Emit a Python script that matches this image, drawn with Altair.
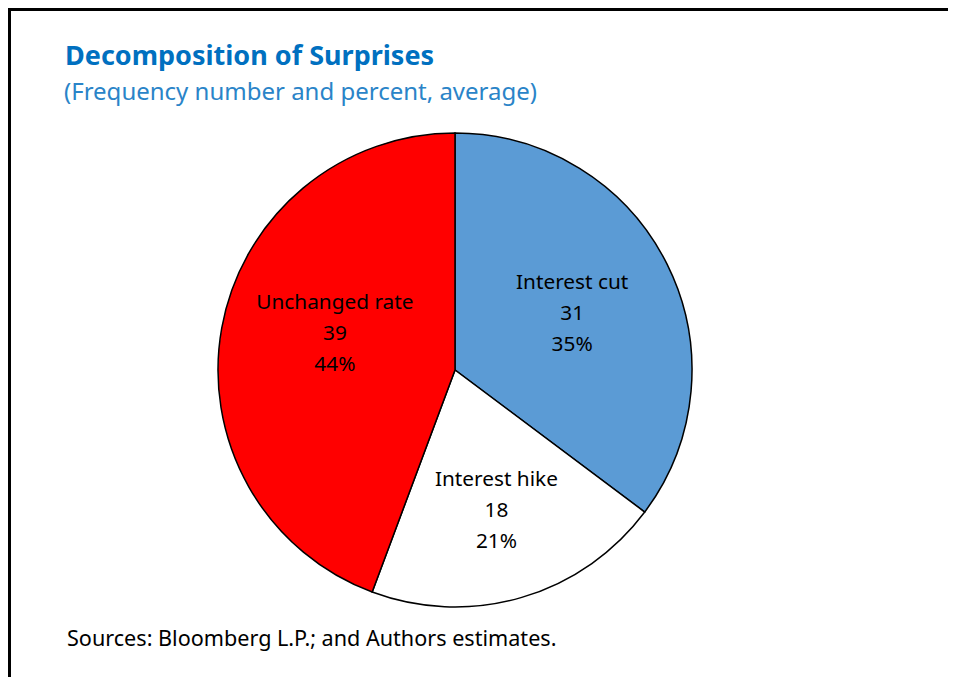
import altair as alt
import pandas as pd

# ---- data ----
categories = ["Interest cut", "Interest hike", "Unchanged rate"]
counts = [31, 18, 39]
percents = [35, 21, 44]
slice_colors = ["#5B9BD5", "#FFFFFF", "#FF0000"]

title_text = "Decomposition of Surprises"
subtitle_text = "(Frequency number and percent, average)"
source_text = "Sources: Bloomberg L.P.; and Authors estimates."

FONT = "Noto Sans"
W, H = 940, 669
CX, CY, R = 447, 362, 237

df = pd.DataFrame({
    "category": categories,
    "count": counts,
    "pct": percents,
    "idx": list(range(len(categories))),
})

pie = alt.Chart(df).mark_arc(
    outerRadius=R, stroke="black", strokeWidth=1.5
).encode(
    theta=alt.Theta("count:Q", stack=True),
    color=alt.Color("category:N", scale=alt.Scale(domain=categories, range=slice_colors), legend=None),
    order=alt.Order("idx:Q"),
    x=alt.value(CX),
    y=alt.value(CY),
)

label_base = (
    alt.Chart(df)
    .transform_joinaggregate(total="sum(count)")
    .transform_window(cum="sum(count)", sort=[alt.SortField("idx")], frame=[None, 0])
    .transform_calculate(
        mid_angle="2*PI*(datum.cum - datum.count/2)/datum.total",
        label="[datum.category, format(datum.count, 'd'), datum.pct + '%']",
    )
)

# label placement (radius from centre, extra offsets) per slice
label_layout = {
    "Interest cut": (131, 0, -28),
    "Interest hike": (147, 0, -31),
    "Unchanged rate": (119, -3, -46),
}

label_layers = []
for cat, (rad, ddx, ddy) in label_layout.items():
    label_layers.append(
        label_base.transform_filter(alt.datum.category == cat)
        .mark_text(radius=rad, dx=ddx, dy=ddy, font=FONT, fontSize=20.8, lineHeight=31,
                   align="center", baseline="middle", color="#000000")
        .encode(theta=alt.Theta("mid_angle:Q", scale=None), text="label:N",
                x=alt.value(CX), y=alt.value(CY))
    )

one = pd.DataFrame({"t": [title_text], "s": [subtitle_text], "src": [source_text]})

title = alt.Chart(one).mark_text(
    font=FONT, fontSize=27, fontWeight="bold", color="#0070C0", align="left", baseline="alphabetic"
).encode(text="t:N", x=alt.value(57), y=alt.value(57))

subtitle = alt.Chart(one).mark_text(
    font=FONT, fontSize=24, color="#2A84C8", align="left", baseline="alphabetic"
).encode(text="s:N", x=alt.value(56), y=alt.value(92))

source = alt.Chart(one).mark_text(
    font=FONT, fontSize=21.6, color="#000000", align="left", baseline="alphabetic"
).encode(text="src:N", x=alt.value(59), y=alt.value(638))

frame_top = alt.Chart(one).mark_rule(color="black", strokeWidth=3).encode(
    x=alt.value(0), x2=alt.value(W), y=alt.value(1.5))
frame_left = alt.Chart(one).mark_rule(color="black", strokeWidth=3).encode(
    x=alt.value(1.5), y=alt.value(0), y2=alt.value(H))

chart = alt.layer(
    pie, *label_layers, title, subtitle, source, frame_top, frame_left
).properties(
    width=W, height=H, padding=0, autosize=alt.AutoSizeParams(type="none"),
    background="white",
).configure_view(stroke=None)

chart.save("out.html", embed_options={"renderer": "svg", "actions": False})
